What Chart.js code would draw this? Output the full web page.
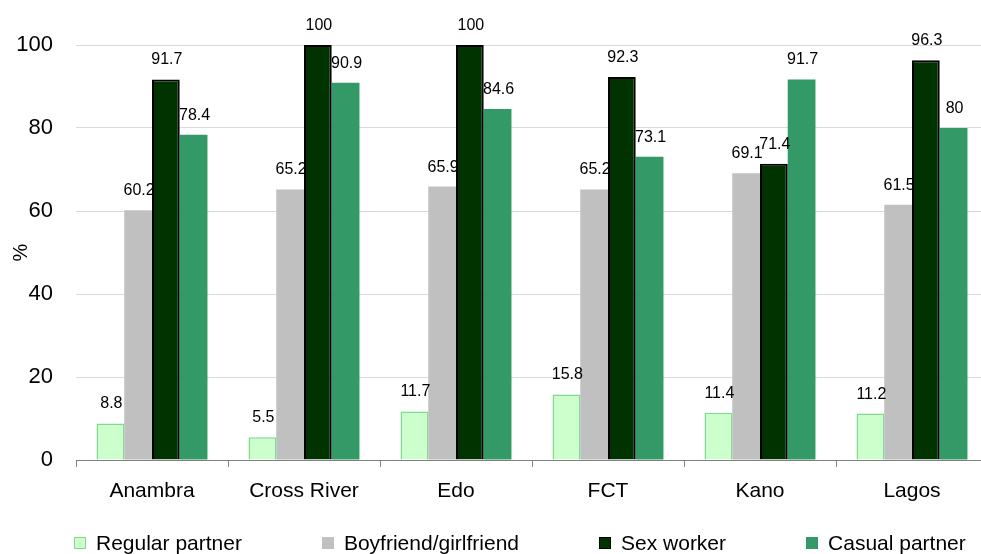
<!DOCTYPE html>
<html>
<head>
<meta charset="utf-8">
<script src="https://cdn.jsdelivr.net/npm/chart.js@4"></script>
<style>
    body { margin: 0; background: #fff; overflow: hidden; font-family: "Liberation Sans", Arial, sans-serif; }
    .chart-wrap { position: relative; width: 1000px; height: 554px; }
    .legend { position: absolute; left: 74px; top: 531px; display: flex; gap: 80px; font-size: 21px; color: #000; white-space: nowrap; }
    .legend-item { display: flex; align-items: center; }
    .legend-box { width: 12px; height: 12px; margin-right: 10px; box-sizing: border-box; }
</style>
</head>
<body>
<div class="chart-wrap">
    <canvas id="partnerChart" width="1000" height="554"></canvas>
    <div class="legend" id="legend"></div>
</div>
<script>
const categories = ['Anambra', 'Cross River', 'Edo', 'FCT', 'Kano', 'Lagos'];
const regularPartner = [8.8, 5.5, 11.7, 15.8, 11.4, 11.2];
const boyfriendGirlfriend = [60.2, 65.2, 65.9, 65.2, 69.1, 61.5];
const sexWorker = [91.7, 100, 100, 92.3, 71.4, 96.3];
const casualPartner = [78.4, 90.9, 84.6, 73.1, 91.7, 80];
const yTicks = [0, 20, 40, 60, 80, 100];

// value printed above every bar
const barValues = {
    id: 'barValues',
    afterDatasetsDraw(chart) {
        const ctx = chart.ctx;
        ctx.save();
        ctx.font = '16px "Liberation Sans", Arial, sans-serif';
        ctx.fillStyle = '#000';
        ctx.textAlign = 'center';
        ctx.textBaseline = 'alphabetic';
        chart.data.datasets.forEach((ds, i) => {
            chart.getDatasetMeta(i).data.forEach((bar, j) => {
                ctx.fillText(String(ds.data[j]), bar.x + 1, bar.y - 15);
            });
        });
        ctx.restore();
    }
};

const ctx = document.getElementById('partnerChart').getContext('2d');
const chart = new Chart(ctx, {
    type: 'bar',
    data: {
        labels: categories,
        datasets: [
            { label: 'Regular partner', data: regularPartner, backgroundColor: '#ccffcc', borderColor: '#7fd894', borderWidth: 1.5 },
            { label: 'Boyfriend/girlfriend', data: boyfriendGirlfriend, backgroundColor: '#c0c0c0', borderWidth: 0 },
            { label: 'Sex worker', data: sexWorker, backgroundColor: '#003300', borderColor: '#000', borderWidth: 2 },
            { label: 'Casual partner', data: casualPartner, backgroundColor: '#339966', borderWidth: 0 }
        ]
    },
    options: {
        responsive: false,
        animation: false,
        layout: { padding: { top: 45, right: 12, bottom: 0, left: 0 } },
        datasets: { bar: { categoryPercentage: 0.73, barPercentage: 1 } },
        plugins: {
            legend: { display: false },
            tooltip: { enabled: false }
        },
        scales: {
            x: {
                grid: { drawOnChartArea: false, drawTicks: true, tickLength: 7, color: '#808080' },
                border: { display: true, color: '#808080', width: 1 },
                ticks: { color: '#000', padding: 12, font: { size: 21, family: '"Liberation Sans", Arial, sans-serif' } },
                afterFit(scale) { scale.height = 94; }
            },
            y: {
                min: 0,
                max: 100,
                afterBuildTicks(scale) { scale.ticks = yTicks.map(v => ({ value: v })); },
                grid: { color: '#d9d9d9', drawTicks: false },
                border: { display: false },
                ticks: { color: '#000', padding: 23, font: { size: 22, family: '"Liberation Sans", Arial, sans-serif' } },
                title: { display: true, text: '%', color: '#000', padding: { top: 9, bottom: 0 }, font: { size: 20, family: '"Liberation Sans", Arial, sans-serif' } },
                afterFit(scale) { scale.width = 76; }
            }
        }
    },
    plugins: [barValues]
});

// legend row under the chart
const legend = document.getElementById('legend');
chart.data.datasets.forEach(ds => {
    const item = document.createElement('div');
    item.className = 'legend-item';
    const box = document.createElement('span');
    box.className = 'legend-box';
    box.style.background = ds.backgroundColor;
    if (ds.borderWidth) box.style.border = '1.5px solid ' + ds.borderColor;
    const text = document.createElement('span');
    text.textContent = ds.label;
    item.appendChild(box);
    item.appendChild(text);
    legend.appendChild(item);
});
</script>
</body>
</html>
